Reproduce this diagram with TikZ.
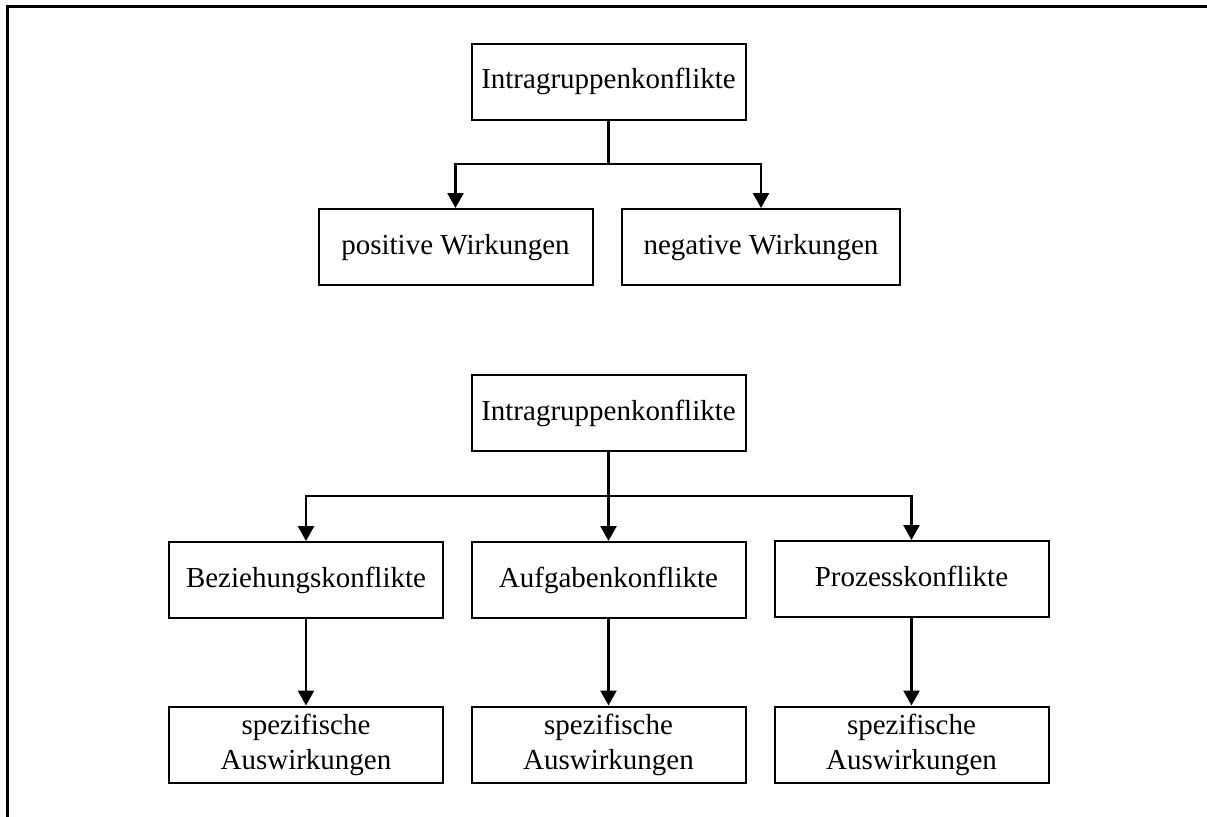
\documentclass[tikz,border=0pt]{standalone}
\usepackage{fontspec}
\setmainfont{Liberation Serif}
\usepackage{tikz}
\usetikzlibrary{shapes, arrows.meta, positioning}

\begin{document}
\begin{tikzpicture}[x=0.5pt, y=-0.5pt,
            box/.style={draw, rectangle, line width=1pt, minimum width=137pt, minimum height=38pt, align=center, inner sep=2pt, font=\fontsize{14.5}{17.5}\selectfont},
            kurz/.style={box, text height=10pt, text depth=3pt},
            arr/.style={-{Triangle[length=7.5pt, width=8pt]}, line width=1.3pt},
            link/.style={line width=1.3pt}]

            \useasboundingbox (0,0) rectangle (1207,816);
            \draw[line width=1.5pt] (7,6) rectangle (1230,840);

            % oberer Teil
            \node[kurz] (konflikt) at (608.5,81.5) {Intragruppenkonflikte};
            \node[kurz] (positiv) at (455.5,247) {positive Wirkungen};
            \node[kurz, minimum width=139pt] (negativ) at (761,247) {negative Wirkungen};

            \coordinate (verzw) at (608.5,164);
            \draw[link] (konflikt) -- (verzw);
            \draw[arr] (verzw) -| (positiv);
            \draw[arr] (verzw) -| (negativ);

            % unterer Teil
            \node[kurz] (konflikt2) at (608.5,413) {Intragruppenkonflikte};
            \node[kurz] (beziehung) at (306,580) {Beziehungskonflikte};
            \node[kurz] (aufgabe) at (608.5,580) {Aufgabenkonflikte};
            \node[kurz] (prozess) at (911.5,579) {Prozesskonflikte};

            \node[box] (spezB) at (306,744.5) {spezifische\\Auswirkungen};
            \node[box] (spezA) at (608.5,744.5) {spezifische\\Auswirkungen};
            \node[box] (spezP) at (911.5,744.5) {spezifische\\Auswirkungen};

            \coordinate (verzw2) at (608.5,496);
            \draw[link] (konflikt2) -- (verzw2);
            \draw[arr] (verzw2) -| (beziehung);
            \draw[arr] (verzw2) -- (aufgabe);
            \draw[arr] (verzw2) -| (prozess);

            \draw[arr] (beziehung) -- (spezB);
            \draw[arr] (aufgabe) -- (spezA);
            \draw[arr] (prozess) -- (spezP);
        \end{tikzpicture}
\end{document}
